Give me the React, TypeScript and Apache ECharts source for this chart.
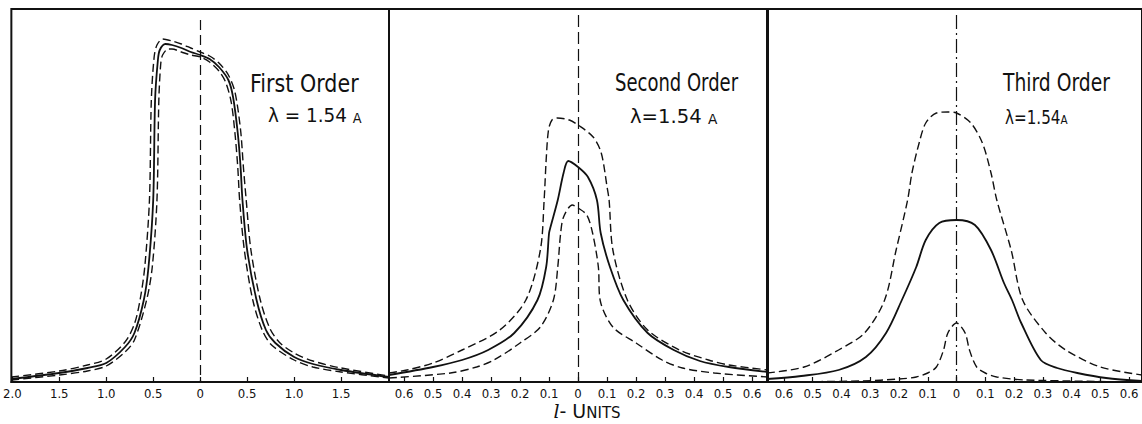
import React, { useEffect, useRef } from "react";
import * as echarts from "echarts";

// Reflection profiles (l-units vs. relative intensity, arbitrary units)
// First order, lambda = 1.54 A
const firstOuter: [number, number][] = [
  [-2.01, 5], [-1.5, 11], [-1.2, 17], [-1.0, 23], [-0.8, 40], [-0.7, 58], [-0.64, 82], [-0.59, 115],
  [-0.54, 182], [-0.52, 282], [-0.49, 325], [-0.46, 337], [-0.4, 343], [-0.3, 341],
  [-0.2, 338], [-0.1, 334], [0, 330], [0.1, 326], [0.2, 319], [0.3, 307], [0.37, 290],
  [0.43, 252], [0.46, 215], [0.49, 182], [0.54, 132], [0.64, 82], [0.74, 54], [0.84, 40],
  [1.0, 29], [1.2, 21], [1.5, 14], [2.01, 6],
];
const firstMean: [number, number][] = [
  [-2.01, 3], [-1.5, 9], [-1.2, 14], [-1.0, 19], [-0.8, 35], [-0.7, 49], [-0.6, 82], [-0.55, 115],
  [-0.5, 182], [-0.48, 282], [-0.45, 322], [-0.43, 332], [-0.37, 338], [-0.3, 337],
  [-0.2, 334], [-0.1, 330], [0, 327], [0.1, 323], [0.2, 315], [0.3, 302], [0.35, 285],
  [0.4, 249], [0.43, 215], [0.45, 182], [0.5, 132], [0.6, 82], [0.7, 52], [0.8, 39],
  [1.0, 25], [1.2, 18], [1.5, 12], [2.01, 5],
];
const firstInner: [number, number][] = [
  [-2.01, 2], [-1.5, 7], [-1.2, 11], [-1.0, 16], [-0.8, 30], [-0.7, 42], [-0.57, 82], [-0.51, 115],
  [-0.46, 182], [-0.44, 282], [-0.42, 318], [-0.4, 327], [-0.34, 333], [-0.3, 333],
  [-0.2, 330], [-0.1, 327], [0, 325], [0.1, 320], [0.2, 311], [0.27, 300], [0.33, 280],
  [0.37, 249], [0.4, 215], [0.42, 182], [0.47, 132], [0.56, 82], [0.66, 52], [0.76, 37],
  [1.0, 22], [1.2, 15], [1.5, 10], [2.01, 4],
];

// Second order
const secondOuter: [number, number][] = [
  [-0.652, 9], [-0.59, 12], [-0.5, 19], [-0.4, 32], [-0.27, 52], [-0.18, 82], [-0.13, 132],
  [-0.117, 182], [-0.11, 222], [-0.102, 252], [-0.09, 262], [-0.072, 264], [-0.03, 262],
  [0, 257], [0.052, 245], [0.08, 229], [0.1, 195], [0.107, 182], [0.12, 132], [0.17, 82],
  [0.24, 52], [0.35, 32], [0.45, 22], [0.52, 17], [0.655, 12],
];
const secondMean: [number, number][] = [
  [-0.652, 7], [-0.5, 15], [-0.4, 22], [-0.31, 32], [-0.22, 49], [-0.14, 82], [-0.11, 115],
  [-0.1, 149], [-0.095, 155], [-0.07, 182], [-0.05, 209], [-0.034, 221], [0, 215],
  [0.034, 205], [0.065, 182], [0.078, 149], [0.11, 115], [0.156, 82], [0.24, 49],
  [0.33, 32], [0.42, 21], [0.52, 15], [0.655, 10],
];
const secondInner: [number, number][] = [
  [-0.652, 4], [-0.44, 9], [-0.35, 15], [-0.29, 22], [-0.2, 39], [-0.13, 55], [-0.085, 82],
  [-0.07, 115], [-0.06, 149], [-0.05, 165], [-0.02, 177], [0, 174], [0.03, 167],
  [0.05, 149], [0.07, 115], [0.076, 82], [0.12, 55], [0.2, 39], [0.29, 22], [0.36, 14],
  [0.47, 9], [0.655, 5],
];

// Third order
const thirdOuter: [number, number][] = [
  [-0.659, 9], [-0.53, 15], [-0.41, 32], [-0.32, 49], [-0.25, 82], [-0.21, 132],
  [-0.17, 182], [-0.155, 209], [-0.13, 239], [-0.107, 259], [-0.07, 269], [-0.03, 270],
  [0, 269], [0.05, 259], [0.09, 239], [0.12, 209], [0.14, 182], [0.19, 132], [0.23, 82],
  [0.31, 49], [0.38, 32], [0.5, 15], [0.645, 7],
];
const thirdMean: [number, number][] = [
  [-0.659, 3], [-0.54, 6], [-0.41, 12], [-0.315, 25], [-0.245, 49], [-0.19, 82], [-0.14, 115],
  [-0.107, 142], [-0.06, 159], [0, 162], [0.064, 157], [0.12, 132], [0.165, 99],
  [0.193, 82], [0.225, 59], [0.293, 22], [0.35, 14], [0.42, 9], [0.52, 4], [0.645, 1],
];
const thirdInner: [number, number][] = [
  [-0.659, 0], [-0.33, 1], [-0.2, 3], [-0.14, 5], [-0.1, 9], [-0.07, 15], [-0.045, 32],
  [-0.03, 49], [0, 59], [0.03, 49], [0.045, 32], [0.07, 15], [0.1, 9], [0.14, 5],
  [0.24, 2], [0.645, 0],
];

// Tick positions (labels show absolute l values)
const firstTicks = [-2.0, -1.5, -1.0, -0.5, 0, 0.5, 1.0, 1.5];
const fineTicks = [-0.6, -0.5, -0.4, -0.3, -0.2, -0.1, 0, 0.1, 0.2, 0.3, 0.4, 0.5, 0.6];

const panelTitles = ["First Order", "Second Order", "Third Order"];
const wavelengthText = ["λ = 1.54 ", "λ=1.54 ", "λ=1.54"];
const axisTitle = { l: "l", rest: "- U", small: "NITS" };

const INK = "#111";
const FONT = "'DejaVu Sans', sans-serif";
const TICK_FONT = "'Liberation Sans Narrow', 'DejaVu Sans Condensed', 'Liberation Sans', sans-serif";

const tickLabel = (v: number) => (Math.abs(v) < 1e-9 ? "0" : Math.abs(v).toFixed(1));

function xAxisFor(i: number, min: number, max: number, ticks: number[]) {
  return {
    type: "value",
    gridIndex: i,
    min,
    max,
    axisLine: { show: true, onZero: false, lineStyle: { color: INK, width: 2 } },
    axisTick: {
      show: true,
      inside: true,
      length: 5,
      customValues: ticks,
      lineStyle: { color: INK, width: 1.2 },
    },
    axisLabel: {
      show: true,
      customValues: ticks,
      formatter: tickLabel,
      color: INK,
      fontFamily: TICK_FONT,
      fontSize: 13,
      margin: 5,
    },
    splitLine: { show: false },
  };
}

function yAxisFor(i: number) {
  return { type: "value", gridIndex: i, min: 0, max: 373, show: false };
}

function curve(i: number, data: [number, number][], dashed: boolean, center?: { top: number; dash: number[] }) {
  const s: any = {
    type: "line",
    xAxisIndex: i,
    yAxisIndex: i,
    data,
    showSymbol: false,
    smooth: 0.3,
    lineStyle: dashed
      ? { color: INK, width: 1.4, type: [8, 4] }
      : { color: INK, width: 1.8, type: "solid" },
    silent: true,
  };
  if (center) {
    s.markLine = {
      silent: true,
      symbol: ["none", "none"],
      label: { show: false },
      lineStyle: { color: INK, width: 1.2, type: center.dash },
      data: [[{ coord: [0, center.top] }, { coord: [0, 0] }]],
    };
  }
  return s;
}

function titleText(x: number, y: number, text: string, scaleX: number) {
  return {
    type: "text",
    x,
    y,
    scaleX,
    style: {
      text,
      fill: INK,
      fontFamily: FONT,
      fontSize: 24,
      textVerticalAlign: "middle",
      textAlign: "left",
    },
  };
}

function lambdaText(x: number, y: number, text: string, size: number, scaleX: number) {
  return {
    type: "text",
    x,
    y,
    scaleX,
    style: {
      text: `{m|${text}}{s|A}`,
      fill: INK,
      textVerticalAlign: "middle",
      textAlign: "left",
      rich: {
        m: { fontFamily: FONT, fontSize: size, fill: INK },
        s: { fontFamily: FONT, fontSize: Math.round(size * 0.7), fill: INK, verticalAlign: "bottom" },
      },
    },
  };
}

export default function App() {
  const ref = useRef<HTMLDivElement>(null);

  useEffect(() => {
    if (!ref.current) return;
    const chart = echarts.init(ref.current, null, { renderer: "svg" });

    const gridBase = { top: 9, height: 373, show: true, borderColor: INK, borderWidth: 2, backgroundColor: "transparent" };

    chart.setOption({
      animation: false,
      backgroundColor: "#fff",
      grid: [
        { ...gridBase, left: 11, width: 378 },
        { ...gridBase, left: 389, width: 379 },
        { ...gridBase, left: 767, width: 378 },
      ],
      xAxis: [
        xAxisFor(0, -2.01, 2.01, firstTicks),
        xAxisFor(1, -0.652, 0.655, fineTicks),
        xAxisFor(2, -0.659, 0.645, fineTicks),
      ],
      yAxis: [yAxisFor(0), yAxisFor(1), yAxisFor(2)],
      series: [
        curve(0, firstOuter, true),
        curve(0, firstMean, false, { top: 362, dash: [10, 5] }),
        curve(0, firstInner, true),
        curve(1, secondOuter, true),
        curve(1, secondMean, false, { top: 367, dash: [12, 5] }),
        curve(1, secondInner, true),
        curve(2, thirdOuter, true),
        curve(2, thirdMean, false, { top: 367, dash: [14, 4, 2, 4] }),
        curve(2, thirdInner, true),
      ],
      graphic: [
        titleText(250, 83, panelTitles[0], 0.86),
        lambdaText(268, 115, wavelengthText[0], 20, 0.92),
        titleText(615, 83, panelTitles[1], 0.75),
        lambdaText(630, 116, wavelengthText[1], 20, 0.98),
        titleText(1003, 83, panelTitles[2], 0.78),
        lambdaText(1005, 117, wavelengthText[2], 19, 0.8),
        {
          type: "text",
          x: 587,
          y: 411,
          style: {
            text: `{l|${axisTitle.l}}{r|${axisTitle.rest}}{s|${axisTitle.small}}`,
            textAlign: "center",
            textVerticalAlign: "middle",
            fill: INK,
            rich: {
              l: { fontFamily: "'DejaVu Serif', serif", fontStyle: "italic", fontSize: 19, fill: INK },
              r: { fontFamily: FONT, fontSize: 19, fill: INK },
              s: { fontFamily: FONT, fontSize: 15, fill: INK, verticalAlign: "bottom" },
            },
          },
        },
      ],
    });

    return () => chart.dispose();
  }, []);

  return (
    <div
      ref={ref}
      style={{ position: "fixed", left: 0, top: 0, width: 1142, height: 424, background: "#fff" }}
    />
  );
}
